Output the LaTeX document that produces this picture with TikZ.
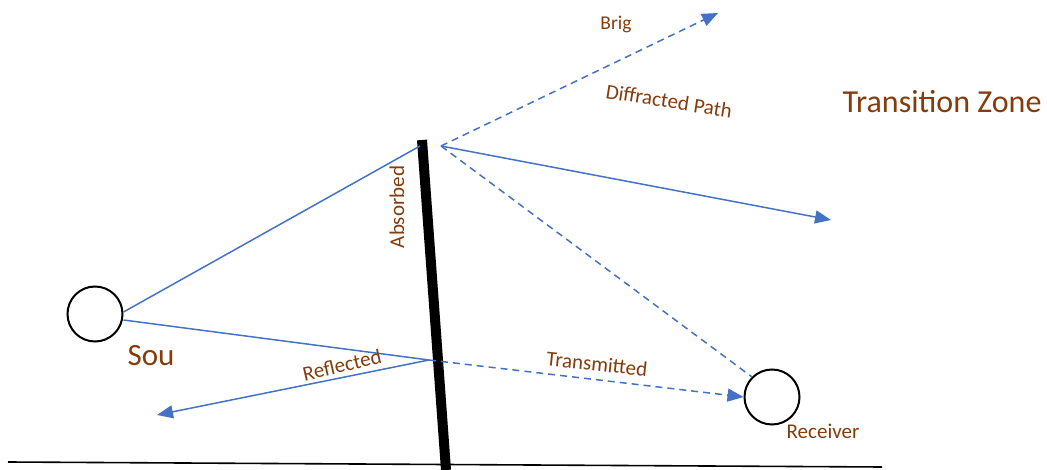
\documentclass[tikz,border=0pt]{standalone}
\usepackage{fontspec}
\setmainfont{Carlito}
\usetikzlibrary{arrows.meta}
\definecolor{rayblue}{HTML}{4472C4}
\definecolor{labelbrown}{HTML}{843C0C}
\begin{document}
\begin{tikzpicture}[x=1pt,y=-1pt,
  ray/.style={draw=rayblue,line width=1.5pt},
  dray/.style={ray,dash pattern=on 7pt off 5pt},
  tip/.style={-{Triangle[length=16pt,width=13pt]}},
  lbl/.style={text=labelbrown,font=\fontsize{21}{24}\selectfont,inner sep=0pt},
  station/.style={circle,draw=black,line width=2pt,minimum size=55pt,inner sep=0pt}]
\useasboundingbox (0,0) rectangle (1047,470);
% ground
\coordinate (g1) at (8,462);
\coordinate (g2) at (882,467);
\draw[line width=1.6pt] (g1) -- (g2);
% barrier
\coordinate (bt) at (422,140);
\coordinate (bb) at (446,470);
\draw[line width=10pt] (bt) -- (bb);
% stations
\node[station] (src) at (95,314) {};
\node[station] (rcv) at (772,397) {};
% points
\coordinate (dtop) at (420,146);
\coordinate (dout) at (441,146);
\coordinate (rfl) at (429,360);
\coordinate (rflend) at (157,415);
\coordinate (diffend) at (718,13);
\coordinate (solend) at (831,220);
% rays
\draw[ray] (src.east) ++(0,-2) coordinate (s1) -- (dtop);
\draw[ray] (src.east) ++(0,6) coordinate (s2) -- (rfl);
\draw[ray,tip] (rfl) -- (rflend);
\draw[dray,tip] (rfl) -- (rcv.west);
\draw[dray,tip] (dout) -- (diffend);
\draw[ray,tip] (dout) -- (solend);
\draw[dray] (dout) -- (rcv.north west);
% labels
\node[lbl,font=\fontsize{19.5}{22}\selectfont] (brig) at (616,24) {Brig};
\node[lbl,rotate=-9] (dp) at (669,101) {Diffracted Path};
\node[lbl,font=\fontsize{32}{36}\selectfont] (tz) at (942,102) {Transition Zone};
\node[lbl,rotate=90] (abs) at (397,207) {Absorbed};
\node[lbl,font=\fontsize{31}{34}\selectfont] (sou) at (151,356) {Sou};
\node[lbl,rotate=13] (refl) at (342,365) {Reflected};
\node[lbl,rotate=-6] (trans) at (597,364) {Transmitted};
\node[lbl] (rec) at (823,431) {Receiver};
\end{tikzpicture}
\end{document}
